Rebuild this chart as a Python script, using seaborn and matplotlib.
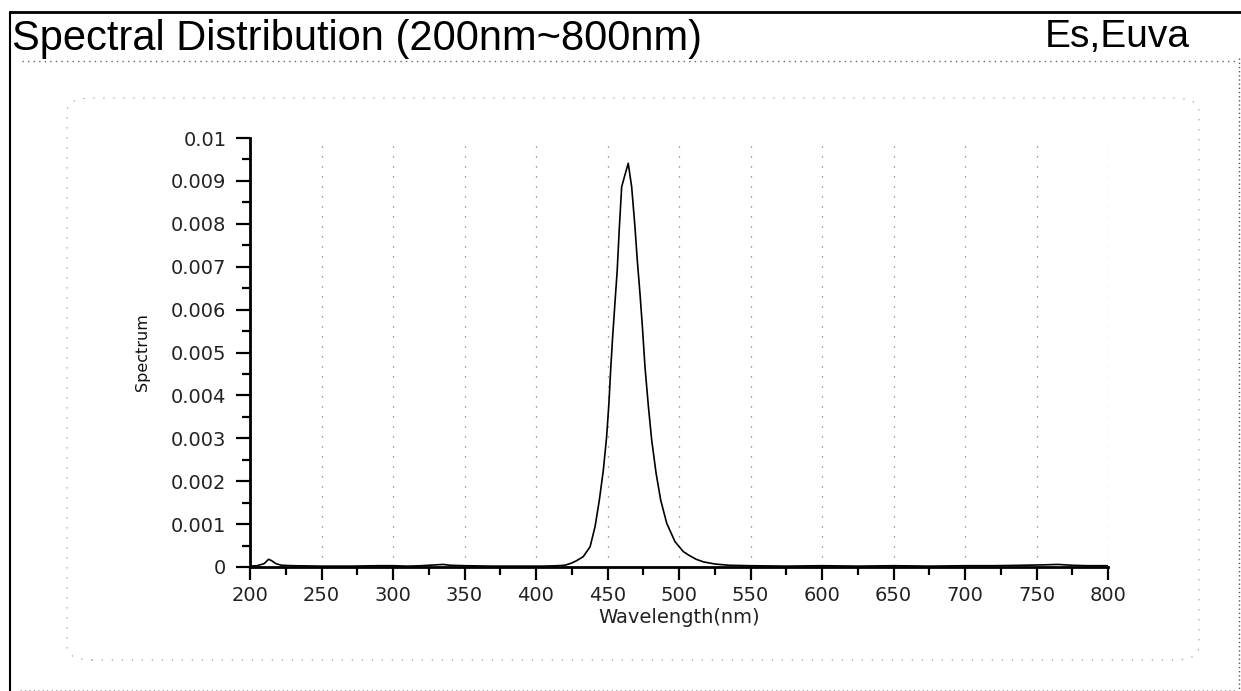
import matplotlib
matplotlib.use("Agg")
import matplotlib.pyplot as plt
from matplotlib.lines import Line2D
from matplotlib.patches import FancyBboxPatch
from matplotlib.ticker import MultipleLocator
import seaborn as sns
import pandas as pd

# spectrum (nm, relative power)
wavelength = [200, 205, 210, 213, 215, 218, 222, 230, 250, 270, 290, 300, 310,
              320, 330, 335, 340, 350, 370, 390, 405, 415, 420, 424, 428, 433,
              437.8, 441.3, 444.3, 447.1, 449.4, 451, 452.2, 453.6, 455.2,
              456.8, 458.2, 459.9, 462.2, 464.5, 466.9, 469.2, 470.8, 472.7,
              474.4, 476.2, 478.6, 480.9, 484, 487.2, 491.4, 497.2, 503,
              506.6, 512, 517, 525, 535, 550, 575, 600, 625, 650, 675, 700,
              720, 740, 755, 765, 775, 785, 800]
spectrum = [0.00002, 0.00003, 0.00008, 0.00018, 0.00015, 0.00008, 0.00004,
            0.00003, 0.00002, 0.00002, 0.00003, 0.00003, 0.00002, 0.00003,
            0.00005, 0.00006, 0.00004, 0.00003, 0.00002, 0.00002, 0.00002,
            0.00003, 0.00004, 0.00008, 0.00014, 0.00024, 0.00047, 0.00094,
            0.00156, 0.00226, 0.00304, 0.00382, 0.00459, 0.00537, 0.00615,
            0.00692, 0.00786, 0.00886, 0.00914, 0.00941, 0.00886, 0.00793,
            0.00716, 0.00638, 0.0056, 0.00467, 0.00374, 0.00296, 0.00218,
            0.00156, 0.00102, 0.00059, 0.00036, 0.00028, 0.00018, 0.00012,
            0.00007, 0.00004, 0.00003, 0.00002, 0.00003, 0.00002, 0.00003,
            0.00002, 0.00003, 0.00003, 0.00004, 0.00005, 0.00006, 0.00004,
            0.00003, 0.00003]

x_ticks = [200, 250, 300, 350, 400, 450, 500, 550, 600, 650, 700, 750, 800]
y_ticks = [0, 0.001, 0.002, 0.003, 0.004, 0.005, 0.006, 0.007, 0.008, 0.009, 0.01]
y_tick_labels = ["0", "0.001", "0.002", "0.003", "0.004", "0.005", "0.006",
                 "0.007", "0.008", "0.009", "0.01"]

df = pd.DataFrame({"Wavelength": wavelength, "Spectrum": spectrum})

sns.set_style("white")
plt.rcParams["font.family"] = ["DejaVu Sans"]

fig = plt.figure(figsize=(12.41, 6.91), dpi=100)
ax = fig.add_axes([250 / 1241, 1 - 567 / 691, 858 / 1241, 429 / 691])

sns.lineplot(data=df, x="Wavelength", y="Spectrum", ax=ax, color="black", lw=1.2)

ax.set_xlim(200, 800)
ax.set_ylim(0, 0.01)
ax.set_xticks(x_ticks)
ax.set_xticklabels([str(t) for t in x_ticks])
ax.set_yticks(y_ticks)
ax.set_yticklabels(y_tick_labels)
ax.xaxis.set_minor_locator(MultipleLocator(25))
ax.yaxis.set_minor_locator(MultipleLocator(0.0005))
ax.tick_params(axis="both", which="major", labelsize=14, color="black",
               labelcolor="#222222", bottom=True, left=True, direction="out", width=1.6)
ax.tick_params(axis="x", which="major", length=9, pad=5)
ax.tick_params(axis="y", which="major", length=10, pad=7)
ax.tick_params(axis="both", which="minor", bottom=True, left=True, direction="out",
               length=6, width=1.6, color="black")

for side in ["top", "right"]:
    ax.spines[side].set_visible(False)
for side in ["left", "bottom"]:
    ax.spines[side].set_color("black")
    ax.spines[side].set_linewidth(2)

ax.grid(axis="x", color="#777777", lw=0.9, linestyle=(0, (1, 7)))
ax.grid(axis="y", visible=False)
ax.set_axisbelow(True)

ax.set_xlabel("Wavelength(nm)", fontsize=14, color="#222222")
ax.xaxis.set_label_coords(0.5, -0.095)
ax.set_ylabel("Spectrum", fontsize=11.5, color="#111111")
ax.yaxis.set_label_coords(-0.1166, 0.5)

# page frame and headings
fig.text(12 / 1241, 1 - 50 / 691, "Spectral Distribution (200nm~800nm)",
         fontsize=30, family="Liberation Sans", va="baseline", ha="left", color="black")
fig.text(1045 / 1241, 1 - 47 / 691, "Es,Euva",
         fontsize=28, family="Liberation Sans", va="baseline", ha="left", color="black")

fig.add_artist(Line2D([10 / 1241, 1], [1 - 12 / 691, 1 - 12 / 691],
                      transform=fig.transFigure, color="black", lw=2))
fig.add_artist(Line2D([10 / 1241, 10 / 1241], [1 - 12 / 691, 0],
                      transform=fig.transFigure, color="black", lw=1.5))
fig.add_artist(Line2D([1239 / 1241, 1239 / 1241], [1 - 58 / 691, 0],
                      transform=fig.transFigure, color="#555555", lw=1,
                      linestyle=(0, (1, 2))))
fig.add_artist(Line2D([22 / 1241, 1235 / 1241], [1 - 61 / 691, 1 - 61 / 691],
                      transform=fig.transFigure, color="#666666", lw=1,
                      linestyle=(0, (1, 3))))
fig.add_artist(Line2D([20 / 1241, 1235 / 1241], [1 - 690 / 691, 1 - 690 / 691],
                      transform=fig.transFigure, color="#999999", lw=0.8,
                      linestyle=(0, (1, 3))))
fig.add_artist(FancyBboxPatch((67 / 1241, 1 - 660 / 691), 1132 / 1241, 562 / 691,
                              boxstyle="round,pad=0,rounding_size=0.02",
                              transform=fig.transFigure, fill=False,
                              edgecolor="#888888", lw=0.8, linestyle=(0, (1, 8))))

fig.savefig("out.png", dpi=100, facecolor="white")
